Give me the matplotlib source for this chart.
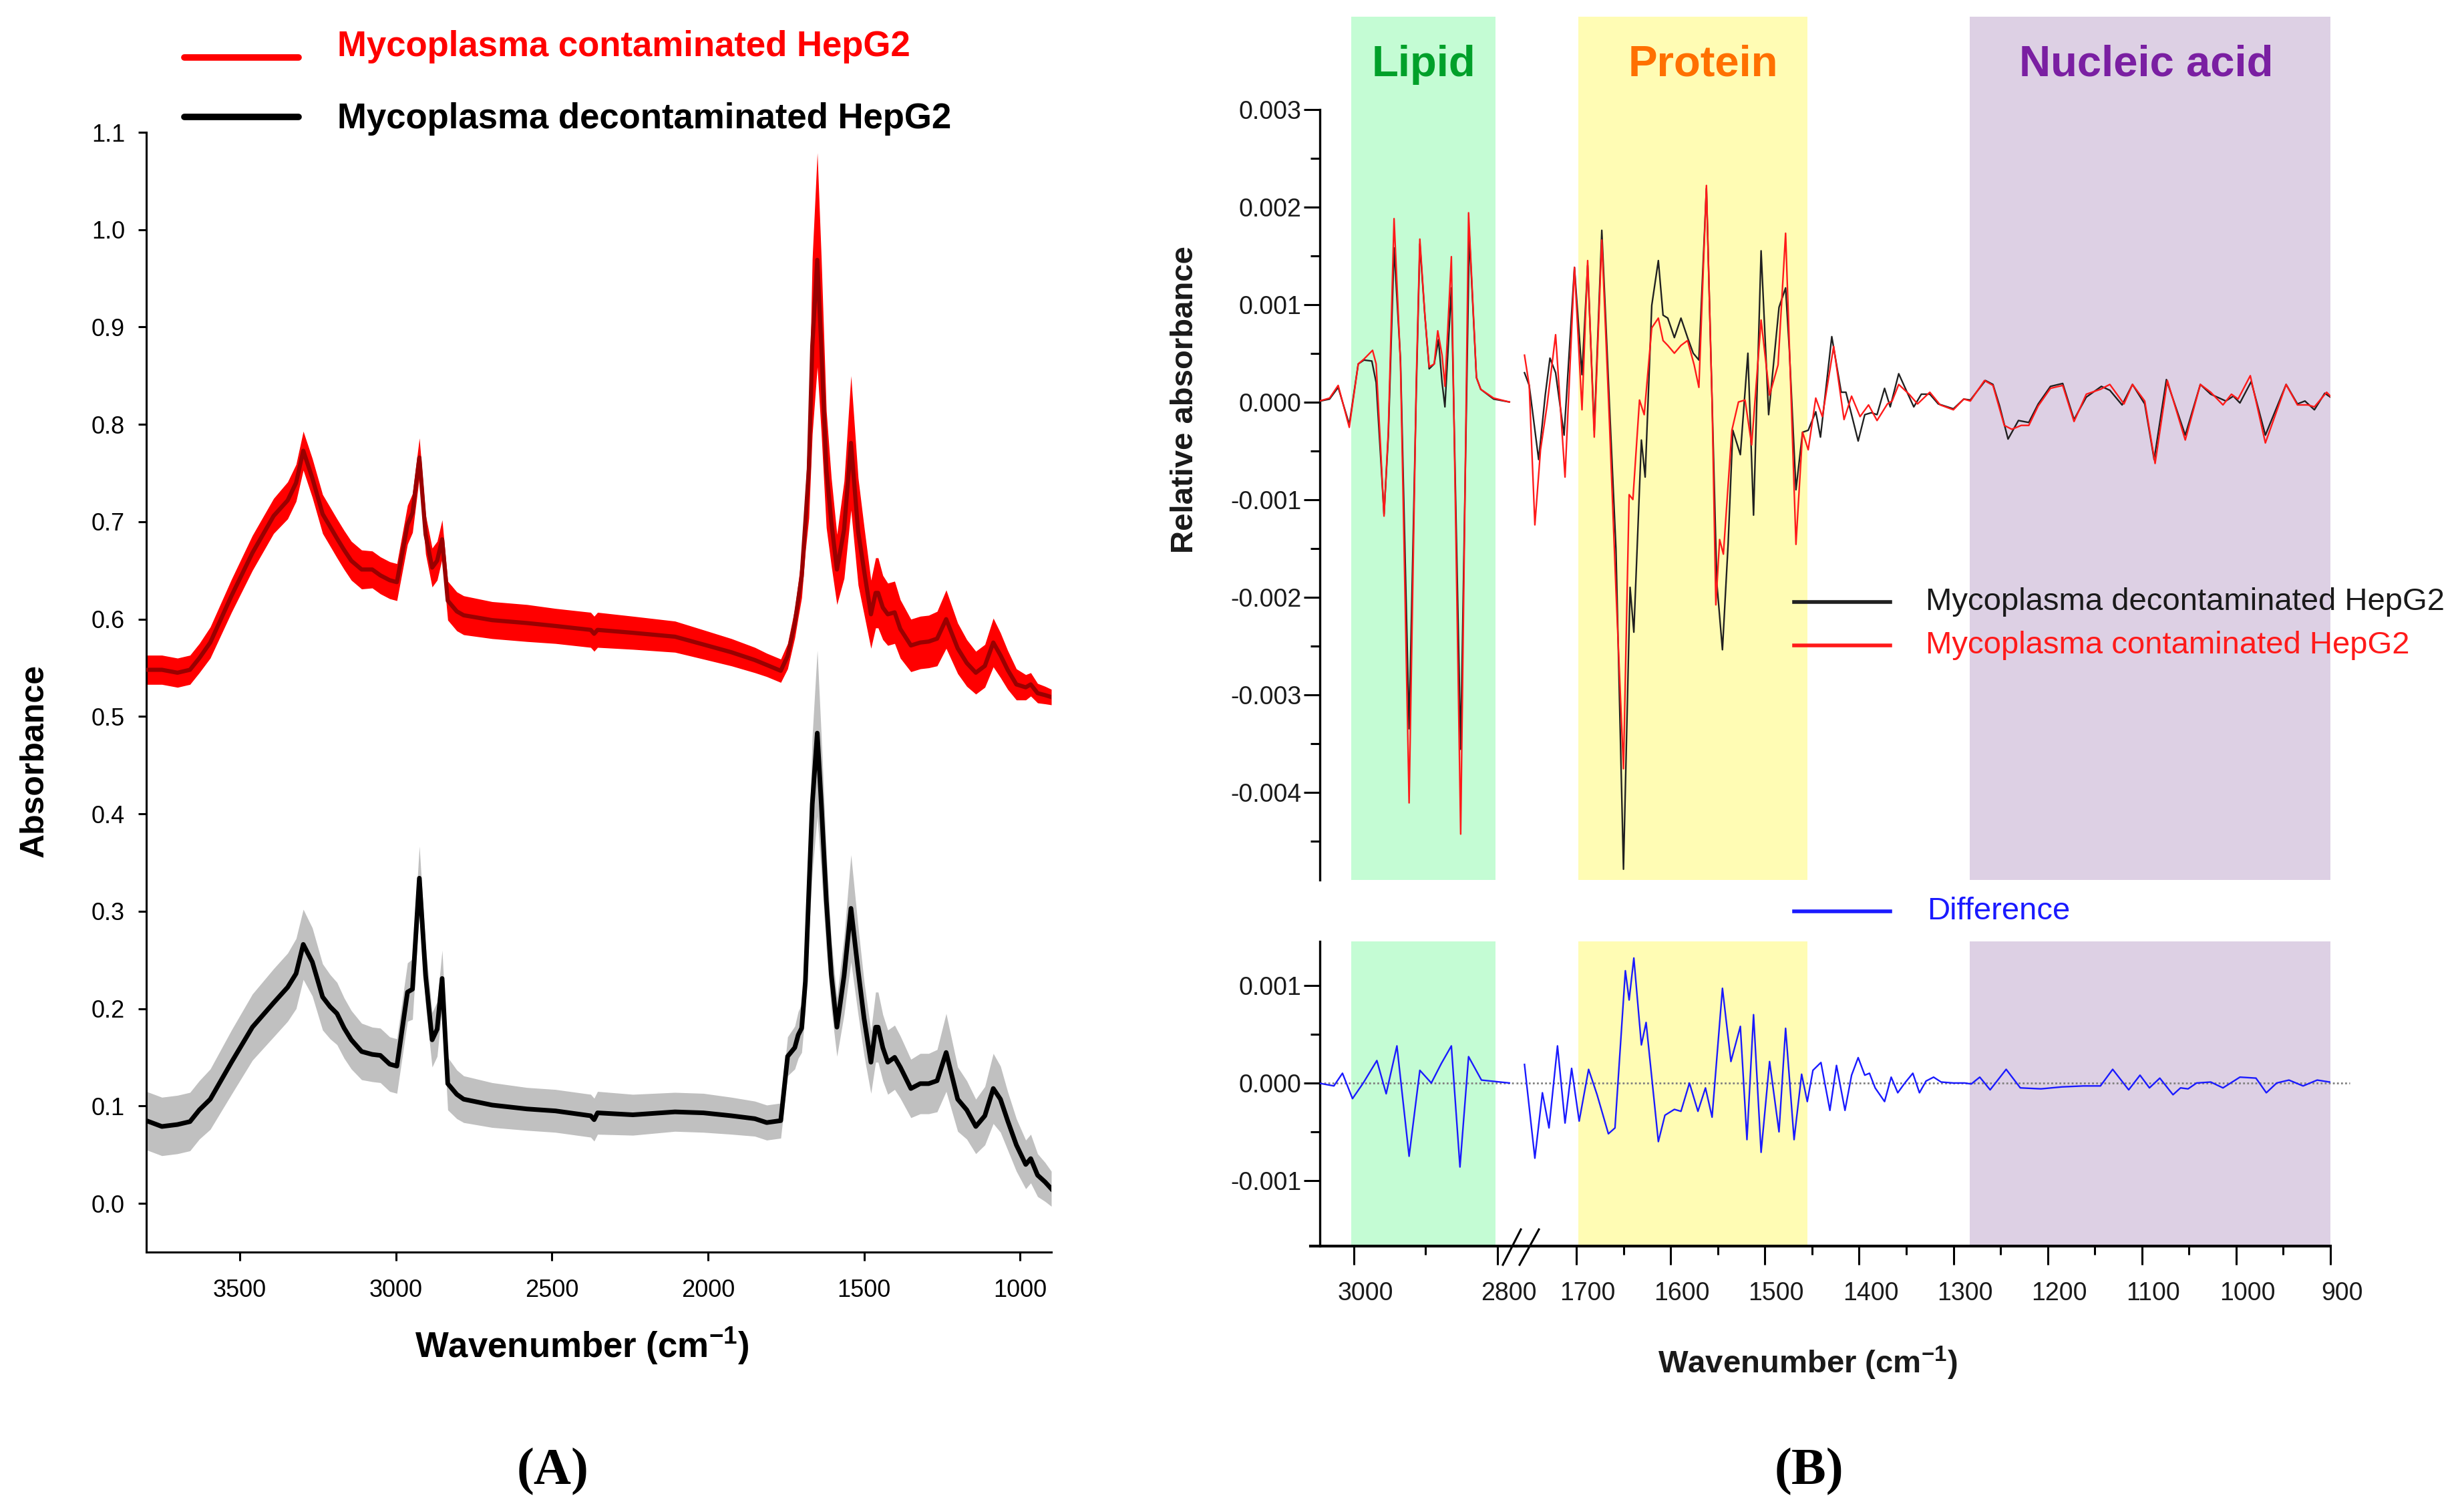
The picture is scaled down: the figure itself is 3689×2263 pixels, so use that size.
import matplotlib
matplotlib.use('Agg')
import matplotlib.pyplot as plt
from matplotlib.lines import Line2D
import matplotlib.transforms as mtransforms

plt.rcParams['font.family'] = ['Liberation Sans', 'DejaVu Sans']
plt.rcParams['axes.unicode_minus'] = False
plt.rcParams['mathtext.fontset'] = 'custom'
plt.rcParams['mathtext.rm'] = 'Liberation Sans:bold'
plt.rcParams['mathtext.bf'] = 'Liberation Sans:bold'
plt.rcParams['mathtext.it'] = 'Liberation Sans:bold'
plt.rcParams['mathtext.default'] = 'bf'

# ---------------- Panel A data ----------------
wnA = [3800, 3750, 3700, 3660, 3630, 3595, 3527, 3460, 3392, 3347,
       3320, 3297, 3268, 3235, 3211, 3189, 3166, 3143, 3110, 3076,
       3050, 3020, 2997, 2963, 2947, 2925, 2905, 2884, 2868, 2852,
       2834, 2805, 2783, 2692, 2580, 2489, 2376, 2365, 2354, 2241,
       2106, 2015, 1925, 1850, 1812, 1767, 1745, 1722, 1711, 1700,
       1688, 1677, 1666, 1650, 1637, 1621, 1605, 1587, 1564, 1542,
       1519, 1500, 1478, 1463, 1455, 1440, 1424, 1402, 1384, 1350,
       1320, 1293, 1266, 1237, 1200, 1171, 1142, 1113, 1086, 1063,
       1040, 1012, 982, 966, 944, 920, 900]
absA_decont = [0.085, 0.079, 0.081, 0.084, 0.096, 0.107, 0.145, 0.181, 0.206, 0.222,
               0.236, 0.266, 0.248, 0.212, 0.202, 0.195, 0.180, 0.168, 0.156, 0.153,
               0.152, 0.143, 0.141, 0.217, 0.220, 0.334, 0.234, 0.168, 0.179, 0.231,
               0.123, 0.112, 0.107, 0.101, 0.097, 0.095, 0.090, 0.086, 0.093, 0.091,
               0.094, 0.093, 0.090, 0.087, 0.083, 0.085, 0.151, 0.160, 0.173, 0.180,
               0.228, 0.320, 0.410, 0.483, 0.410, 0.311, 0.235, 0.181, 0.234, 0.303,
               0.239, 0.190, 0.145, 0.181, 0.181, 0.160, 0.145, 0.150, 0.140, 0.118,
               0.123, 0.123, 0.126, 0.155, 0.107, 0.096, 0.079, 0.090, 0.118, 0.107,
               0.085, 0.060, 0.040, 0.046, 0.029, 0.022, 0.015]
sdA_decont = [0.030, 0.030, 0.030, 0.030, 0.030, 0.031, 0.033, 0.034, 0.035, 0.035,
              0.036, 0.036, 0.035, 0.034, 0.033, 0.032, 0.031, 0.030, 0.029, 0.028,
              0.028, 0.028, 0.028, 0.030, 0.031, 0.033, 0.030, 0.028, 0.028, 0.029,
              0.027, 0.025, 0.024, 0.023, 0.022, 0.022, 0.022, 0.022, 0.022, 0.021,
              0.020, 0.020, 0.019, 0.018, 0.018, 0.018, 0.020, 0.022, 0.024, 0.025,
              0.030, 0.045, 0.070, 0.085, 0.070, 0.050, 0.035, 0.030, 0.040, 0.055,
              0.045, 0.038, 0.032, 0.036, 0.036, 0.034, 0.033, 0.033, 0.032, 0.030,
              0.031, 0.031, 0.032, 0.040, 0.033, 0.030, 0.028, 0.030, 0.036, 0.034,
              0.030, 0.027, 0.025, 0.025, 0.022, 0.020, 0.018]
absA_cont = [0.548, 0.548, 0.545, 0.548, 0.560, 0.576, 0.624, 0.668, 0.706, 0.722,
             0.740, 0.773, 0.745, 0.708, 0.695, 0.683, 0.671, 0.660, 0.651, 0.651,
             0.645, 0.640, 0.638, 0.697, 0.709, 0.766, 0.687, 0.653, 0.660, 0.682,
             0.619, 0.608, 0.604, 0.599, 0.596, 0.593, 0.589, 0.585, 0.589, 0.586,
             0.582, 0.574, 0.566, 0.558, 0.553, 0.547, 0.562, 0.596, 0.620, 0.644,
             0.700, 0.754, 0.880, 0.969, 0.880, 0.754, 0.700, 0.651, 0.692, 0.781,
             0.690, 0.650, 0.605, 0.627, 0.627, 0.612, 0.605, 0.607, 0.590, 0.573,
             0.576, 0.577, 0.580, 0.600, 0.570, 0.555, 0.545, 0.552, 0.576, 0.563,
             0.548, 0.533, 0.530, 0.533, 0.524, 0.522, 0.520]
sdA_cont = [0.015, 0.015, 0.015, 0.015, 0.015, 0.016, 0.017, 0.018, 0.018, 0.019,
            0.019, 0.020, 0.020, 0.020, 0.020, 0.020, 0.020, 0.020, 0.020, 0.019,
            0.019, 0.019, 0.019, 0.020, 0.020, 0.020, 0.020, 0.020, 0.020, 0.020,
            0.020, 0.020, 0.020, 0.019, 0.019, 0.018, 0.018, 0.018, 0.018, 0.017,
            0.016, 0.015, 0.014, 0.013, 0.012, 0.012, 0.013, 0.015, 0.018, 0.022,
            0.030, 0.050, 0.090, 0.110, 0.090, 0.060, 0.045, 0.036, 0.050, 0.069,
            0.055, 0.045, 0.035, 0.036, 0.036, 0.033, 0.032, 0.032, 0.030, 0.027,
            0.027, 0.027, 0.028, 0.030, 0.026, 0.024, 0.022, 0.022, 0.025, 0.023,
            0.020, 0.016, 0.013, 0.012, 0.010, 0.009, 0.008]
xticksA = [3500, 3000, 2500, 2000, 1500, 1000]
yticksA = [0.0, 0.1, 0.2, 0.3, 0.4, 0.5, 0.6, 0.7, 0.8, 0.9, 1.0, 1.1]

# ---------------- Panel B data: (wavenumber, relative absorbance) ----------------
lipid_decont = [(3053, 0), (3034, 0.00003), (3022, 0.00015), (3006.5, -0.00023), (2994, 0.00039),
                (2986, 0.00043), (2975, 0.00042), (2969, 0.0002), (2963, -0.00053), (2958, -0.00115),
                (2952, -0.00035), (2944, 0.00158), (2935, 0.00043), (2923, -0.00335), (2913, 0.00011),
                (2908, 0.00162), (2901, 0.00089), (2895, 0.00034), (2888, 0.00039), (2882, 0.00064),
                (2877, 0.0002), (2873, -0.00005), (2864, 0.00117), (2851, -0.00356), (2839, 0.00172),
                (2829, 0.00025), (2823, 0.00013), (2805, 0.00003), (2783, 0)]
lipid_cont = [(3053, 0), (3034, 0.00004), (3022, 0.00017), (3006.5, -0.00026), (2994, 0.00039),
              (2986, 0.00044), (2974, 0.00053), (2969, 0.00039), (2963, -0.00044), (2958, -0.00117),
              (2952, -0.0003), (2944, 0.00188), (2935, 0.00039), (2923, -0.00411), (2913, 0.0002),
              (2908, 0.00167), (2901, 0.00089), (2895, 0.00036), (2888, 0.00039), (2883, 0.00073),
              (2877, 0.00048), (2873, 0.00016), (2864, 0.00149), (2851, -0.00443), (2840, 0.00194),
              (2829, 0.00025), (2823, 0.00013), (2805, 0.00004), (2783, 0)]
fingerprint_decont = [
    (1755, 0.0003), (1750, 0.00017), (1740, -0.00059), (1733, 0.00007), (1728, 0.00045),
    (1722, 0.0003), (1713, -0.00034), (1702, 0.00138), (1694, 0.00028), (1688, 0.0014),
    (1681, -0.00029), (1673, 0.00176), (1665, 0.0), (1658, -0.0015), (1650, -0.00479),
    (1643, -0.0019), (1639, -0.00236), (1631, -0.00039), (1627, -0.00077), (1620, 0.00099),
    (1613, 0.00145), (1608, 0.00089), (1603, 0.00086), (1596, 0.00066), (1589, 0.00086),
    (1582, 0.00066), (1576, 0.0005), (1570, 0.00043), (1562, 0.00219), (1556, 0.00002),
    (1551, -0.00185), (1545, -0.00254), (1539, -0.00146), (1534, -0.00029), (1526, -0.00054),
    (1518, 0.0005), (1512, -0.00116), (1504, 0.00155), (1496, -0.00013), (1485, 0.00097),
    (1478, 0.00117), (1474, 0.00053), (1467, -0.0009), (1460, -0.00031), (1454, -0.00029),
    (1446, -0.0001), (1441, -0.00036), (1429, 0.00067), (1419, 0.0001), (1414, 0.0001),
    (1408, -0.00013), (1401, -0.0004), (1394, -0.00013), (1387, -0.00011), (1381, -0.00013),
    (1373, 0.00014), (1367, -0.00005), (1358, 0.00029), (1351, 0.00014), (1342, -0.00005),
    (1334, 0.00008), (1325, 0.00008), (1316, -0.00002), (1300, -0.00007), (1289, 0.00003),
    (1282, 0.00002), (1266, 0.00022), (1258, 0.00018), (1251, -0.00004), (1242, -0.00038),
    (1231, -0.00019), (1220, -0.00021), (1210, -0.00002), (1197, 0.00016), (1184, 0.00019),
    (1172, -0.00018), (1159, 0.00005), (1143, 0.00016), (1134, 0.00012), (1121, -0.00003),
    (1110, 0.00018), (1097, -0.00002), (1087, -0.00059), (1074, 0.00023), (1054, -0.00034),
    (1038, 0.00018), (1027, 0.00008), (1011, 0.00001), (1003, 0.00006), (996, -0.00001),
    (984, 0.00021), (969, -0.00034), (947, 0.00018), (935, -0.00002), (927, 0.00001),
    (917, -0.00008), (906, 0.00009), (900, 0.00005)]
fingerprint_cont = [
    (1755, 0.00048), (1750, 0.00017), (1744, -0.00126), (1738, -0.00049), (1731, -0.00003),
    (1722, 0.00069), (1712, -0.00077), (1702, 0.00138), (1694, -0.00008), (1688, 0.00145),
    (1681, -0.00036), (1673, 0.00166), (1665, -0.00018), (1658, -0.00192), (1650, -0.00376),
    (1644, -0.00095), (1640, -0.001), (1633, 0.00002), (1628, -0.00013), (1620, 0.00076),
    (1613, 0.00086), (1608, 0.00063), (1603, 0.00058), (1596, 0.0005), (1589, 0.00058),
    (1582, 0.00063), (1575, 0.00038), (1570, 0.00015), (1562, 0.00222), (1556, 0.0),
    (1552, -0.00208), (1548, -0.00141), (1544, -0.00156), (1535, -0.00029), (1528, 0.0),
    (1521, 0.00002), (1514, -0.00044), (1504, 0.00084), (1495, 0.00007), (1486, 0.00038),
    (1478, 0.00173), (1472, 0.0), (1467, -0.00146), (1460, -0.00031), (1454, -0.00049),
    (1446, 0.00004), (1439, -0.00015), (1427, 0.00057), (1416, -0.00018), (1408, 0.00006),
    (1399, -0.00015), (1390, -0.00003), (1381, -0.00019), (1370, -0.00002), (1365, 0.00001),
    (1358, 0.00018), (1347, 0.00008), (1338, -0.00002), (1325, 0.0001), (1314, -0.00003),
    (1300, -0.00008), (1289, 0.00003), (1282, 0.00001), (1267, 0.00022), (1258, 0.00017),
    (1246, -0.00024), (1238, -0.00028), (1228, -0.00024), (1220, -0.00024), (1210, -0.00004),
    (1197, 0.00014), (1184, 0.00017), (1172, -0.0002), (1159, 0.00008), (1144, 0.00013),
    (1134, 0.00018), (1119, -0.00002), (1110, 0.00018), (1097, 0.00001), (1086, -0.00063),
    (1073, 0.00022), (1054, -0.00039), (1038, 0.00018), (1027, 0.0001), (1014, -0.00003),
    (1005, 0.00008), (998, 0.00003), (985, 0.00027), (969, -0.00042), (947, 0.00018),
    (935, -0.00003), (924, -0.00003), (917, -0.00005), (904, 0.0001), (900, 0.00006)]
lipid_diff = [(3050, 0), (3028, -0.00003), (3016, 0.0001), (3002, -0.00016), (2987, 0),
              (2968, 0.00023), (2955, -0.00011), (2940, 0.00038), (2923, -0.00075), (2908, 0.00013),
              (2892, 0), (2878, 0.0002), (2864, 0.00038), (2852, -0.00086), (2840, 0.00027),
              (2822, 0.00003), (2783, 0)]
fingerprint_diff = [
    (1755, 0.00019), (1744, -0.00077), (1736, -0.0001), (1729, -0.00046), (1720, 0.00038),
    (1712, -0.00041), (1705, 0.00015), (1697, -0.00039), (1687, 0.00014), (1678, -0.00012),
    (1666, -0.00052), (1659, -0.00046), (1648, 0.00115), (1644, 0.00085), (1639, 0.00128),
    (1631, 0.00039), (1626, 0.00062), (1613, -0.0006), (1606, -0.00033), (1596, -0.00027),
    (1589, -0.00029), (1580, 0), (1571, -0.00029), (1563, -0.00005), (1556, -0.00035),
    (1545, 0.00097), (1536, 0.00022), (1526, 0.00058), (1519, -0.00058), (1512, 0.0007),
    (1504, -0.00071), (1495, 0.00022), (1485, -0.0005), (1478, 0.00056), (1469, -0.00058),
    (1461, 0.00009), (1455, -0.00019), (1449, 0.00013), (1440.5, 0.00021), (1431, -0.00028),
    (1424, 0.00018), (1415, -0.00028), (1408, 0.00008), (1401, 0.00026), (1394, 0.00008),
    (1389, 0.0001), (1383, -0.00005), (1373, -0.00019), (1366, 0.00006), (1359, -0.0001),
    (1351.5, 0), (1343, 0.0001), (1336, -0.0001), (1329, 0.00002), (1321, 0.00006),
    (1313, 0.00001), (1300, 0), (1288, 0), (1281, -0.00001), (1272, 0.00006),
    (1261, -0.00007), (1244, 0.00014), (1229, -0.00005), (1207, -0.00006), (1185, -0.00004),
    (1162, -0.00003), (1144, -0.00003), (1131, 0.00014), (1114, -0.00007), (1102, 0.00008),
    (1092, -0.00005), (1081, 0.00005), (1067, -0.00012), (1059, -0.00005), (1051, -0.00006),
    (1042, 0), (1027, 0.00001), (1014, -0.00005), (996, 0.00006), (979, 0.00005),
    (968, -0.0001), (957, 0), (944, 0.00003), (929, -0.00003), (914, 0.00003),
    (901, 0.00001), (900, 0.00001)]

region_names = ['Lipid', 'Protein', 'Nucleic acid']
region_ranges = [(3004, 2802), (1698, 1455), (1283, 900)]
yticksB_up = [-0.004, -0.003, -0.002, -0.001, 0.0, 0.001, 0.002, 0.003]
yticksB_low = [-0.001, 0.0, 0.001]
xticksB_left = [3000, 2800]
xticksB_right = [1700, 1600, 1500, 1400, 1300, 1200, 1100, 1000, 900]


def unzip(pairs):
    return [p[0] for p in pairs], [p[1] for p in pairs]


# ---------------- Figure ----------------
W, H = 3689, 2263
fig = plt.figure(figsize=(W / 100, H / 100), dpi=100)


def rect(x0, y0, x1, y1):
    return [x0 / W, 1 - y1 / H, (x1 - x0) / W, (y1 - y0) / H]


def fx(x):
    return x / W


def fy(y):
    return 1 - y / H


# ---------------- Panel A ----------------
axA = fig.add_axes(rect(219, 198, 1574, 1874))
loK = [m - s for m, s in zip(absA_decont, sdA_decont)]
hiK = [m + s for m, s in zip(absA_decont, sdA_decont)]
loR = [m - s for m, s in zip(absA_cont, sdA_cont)]
hiR = [m + s for m, s in zip(absA_cont, sdA_cont)]
axA.fill_between(wnA, loK, hiK, color='#c0c0c0', lw=0, zorder=1)
axA.fill_between(wnA, loR, hiR, color='#ff0000', lw=0, zorder=2)
axA.plot(wnA, absA_decont, color='black', lw=5, solid_joinstyle='round', zorder=3)
axA.plot(wnA, absA_cont, color='#9a0000', lw=4.5, solid_joinstyle='round', zorder=4)
axA.set_xlim(3800, 900)
axA.set_ylim(-0.05, 1.1)
for s in ['top', 'right']:
    axA.spines[s].set_visible(False)
for s in ['left', 'bottom']:
    axA.spines[s].set_linewidth(2.2)
axA.set_xticks(xticksA)
axA.set_xticklabels([str(v) for v in xticksA])
axA.set_yticks(yticksA)
axA.set_yticklabels(['%.1f' % v for v in yticksA])
axA.tick_params(axis='both', length=9, width=2.2, labelsize=26)
axA.tick_params(axis='y', pad=14)
axA.tick_params(axis='x', pad=20)

fig.text(fx(52), fy(1138), 'Absorbance', rotation=90, ha='center', va='center',
         fontsize=36, fontweight='bold')
fig.text(fx(871), fy(2015), r'Wavenumber (cm$^{-1}$)', ha='center', va='center',
         fontsize=38, fontweight='bold')
fig.text(fx(828), fy(2203), '(A)', ha='center', va='center', fontsize=56,
         fontweight='bold', family='Liberation Serif')

fig.add_artist(Line2D([fx(276), fx(447)], [fy(86), fy(86)], color='#ff0000', lw=7,
                      solid_capstyle='round'))
fig.add_artist(Line2D([fx(276), fx(447)], [fy(175), fy(175)], color='black', lw=7,
                      solid_capstyle='round'))
fig.text(fx(505), fy(70), 'Mycoplasma contaminated HepG2', ha='left', va='center',
         fontsize=38, fontweight='bold', color='#ff0000')
fig.text(fx(505), fy(178), 'Mycoplasma decontaminated HepG2', ha='left', va='center',
         fontsize=38, fontweight='bold', color='black')

# ---------------- Panel B ----------------
axUL = fig.add_axes(rect(1976, 25, 2270, 1317))
axUR = fig.add_axes(rect(2270, 25, 3489, 1317))
axLL = fig.add_axes(rect(1976, 1409, 2270, 1865))
axLR = fig.add_axes(rect(2270, 1409, 3489, 1865))
band_colors = ['#c4fcd4', '#fffcb4', '#ddd0e4']
for ax in (axUL, axUR, axLL, axLR):
    ax.patch.set_alpha(0)
    for s in ax.spines.values():
        s.set_visible(False)
for ax in (axUL, axLL):
    ax.set_xlim(3047.6, 2773.5)
    ax.axvspan(*region_ranges[0], color=band_colors[0], lw=0, zorder=0)
for ax in (axUR, axLR):
    ax.set_xlim(1763.8, 900)
    ax.axvspan(*region_ranges[1], color=band_colors[1], lw=0, zorder=0)
    ax.axvspan(*region_ranges[2], color=band_colors[2], lw=0, zorder=0)
for ax in (axUL, axUR):
    ax.set_ylim(-0.0049, 0.00395)
    ax.tick_params(axis='x', bottom=False, labelbottom=False)
for ax in (axLL, axLR):
    ax.set_ylim(-0.00167, 0.00145)
for ax in (axUR, axLR):
    ax.tick_params(axis='y', left=False, labelleft=False)

lwB = 1.7
kw = dict(lw=lwB, solid_joinstyle='round')
axUL.plot(*unzip(lipid_decont), color='#202020', zorder=3, **kw)
axUL.plot(*unzip(lipid_cont), color='#ff1a1a', zorder=4, **kw)
axUR.plot(*unzip(fingerprint_decont), color='#202020', zorder=3, **kw)
axUR.plot(*unzip(fingerprint_cont), color='#ff1a1a', zorder=4, **kw)
axLL.plot(*unzip(lipid_diff), color='#1a1aff', zorder=3, **kw)
axLR.plot(*unzip(fingerprint_diff), color='#1a1aff', zorder=3, **kw)
axLL.axhline(0, color='#808080', lw=2, ls=(0, (1, 1.2)), zorder=2)
axLR.axhline(0, xmin=0, xmax=1.024, color='#808080', lw=2, ls=(0, (1, 1.2)),
             zorder=2, clip_on=False)

axUL.spines['left'].set_visible(True)
axUL.spines['left'].set_linewidth(2.4)
axUL.spines['left'].set_bounds(-0.0049, 0.003)
axUL.set_yticks(yticksB_up)
axUL.set_yticklabels(['%.3f' % v for v in yticksB_up])
axUL.set_yticks([v + 0.0005 for v in yticksB_up[:-1]] + [-0.0045], minor=True)
axLL.spines['left'].set_visible(True)
axLL.spines['left'].set_linewidth(2.4)
axLL.set_yticks(yticksB_low)
axLL.set_yticklabels(['%.3f' % v for v in yticksB_low])
axLL.set_yticks([-0.0005, 0.0005], minor=True)
for ax in (axUL, axLL):
    ax.tick_params(axis='y', which='major', length=17, width=2.2, labelsize=27, pad=3,
                   labelcolor='#1a1a1a')
    ax.tick_params(axis='y', which='minor', length=10, width=2.2)

for ax in (axLL, axLR):
    ax.spines['bottom'].set_visible(True)
    ax.spines['bottom'].set_linewidth(3.0)
axLL.spines['bottom'].set_bounds(3061, 2773.5)
axLL.set_xticks(xticksB_left)
axLL.set_xticklabels([str(v) for v in xticksB_left])
axLL.set_xticks([2900], minor=True)
axLR.set_xticks(xticksB_right)
axLR.set_xticklabels([str(v) for v in xticksB_right])
axLR.set_xticks([v - 50 for v in xticksB_right[:-1]], minor=True)
for ax in (axLL, axLR):
    ax.tick_params(axis='x', which='major', length=20, width=2.2, labelsize=27, pad=18,
                   labelcolor='#1a1a1a')
    ax.tick_params(axis='x', which='minor', length=9.5, width=2.2)
    off = mtransforms.ScaledTranslation(0.17, 0, fig.dpi_scale_trans)
    for lbl in ax.get_xticklabels():
        lbl.set_transform(lbl.get_transform() + off)

for (xa, xb) in [(2250, 2277), (2275, 2304)]:
    fig.add_artist(Line2D([fx(xa), fx(xb)], [fy(1893), fy(1840)], color='black', lw=2.2))

title_colors = ['#00a02a', '#ff7000', '#7a1fa2']
title_x = [2131, 2550, 3213]
for name, col, x in zip(region_names, title_colors, title_x):
    fig.text(fx(x), fy(97), name, ha='center', va='center', fontsize=47,
             fontweight='bold', color=col)

fig.add_artist(Line2D([fx(2686), fx(2830)], [fy(901), fy(901)], color='#202020', lw=4))
fig.add_artist(Line2D([fx(2686), fx(2830)], [fy(966), fy(966)], color='#ff1a1a', lw=4))
fig.add_artist(Line2D([fx(2686), fx(2830)], [fy(1364), fy(1364)], color='#1a1aff', lw=4))
fig.text(fx(2883), fy(901), 'Mycoplasma decontaminated HepG2', ha='left', va='center',
         fontsize=34, color='#1a1a1a')
fig.text(fx(2883), fy(966), 'Mycoplasma contaminated HepG2', ha='left', va='center',
         fontsize=34, color='#ff1a1a')
fig.text(fx(2885), fy(1364), 'Difference', ha='left', va='center',
         fontsize=34, color='#1a1aff')

fig.text(fx(1774), fy(598), 'Relative absorbance', rotation=90, ha='center', va='center',
         fontsize=34, fontweight='bold', color='#1a1a1a')
fig.text(fx(2706), fy(2040), r'Wavenumber (cm$^{-1}$)', ha='center', va='center',
         fontsize=34, fontweight='bold', color='#1a1a1a')
fig.text(fx(2708), fy(2203), '(B)', ha='center', va='center', fontsize=56,
         fontweight='bold', family='Liberation Serif')

fig.savefig('out.png', dpi=100, facecolor='white')
